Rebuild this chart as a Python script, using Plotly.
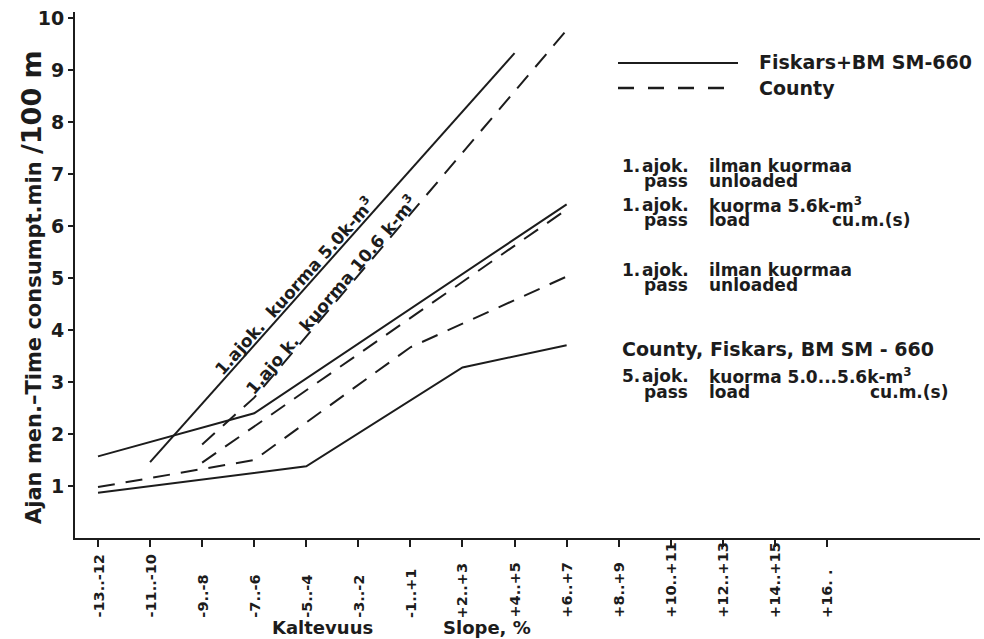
import math
import plotly.graph_objects as go

# ---- data -------------------------------------------------------------
slope_labels = ["-13..-12", "-11..-10", "-9..-8", "-7..-6", "-5..-4", "-3..-2",
                "-1..+1", "+2..+3", "+4..+5", "+6..+7", "+8..+9", "+10..+11",
                "+12..+13", "+14..+15", "+16. ."]
y_ticks = [1, 2, 3, 4, 5, 6, 7, 8, 9, 10]

# Fiskars+BM SM-660, 1st pass, load 5.0 m3
fiskars_load_x = [1, 8]
fiskars_load_y = [1.46, 9.33]
# County, 1st pass, load 10.6 m3
county_load106_x = [2, 3, 9]
county_load106_y = [1.80, 2.70, 9.77]
# Fiskars+BM SM-660, 1st pass unloaded
fiskars_empty_x = [0, 3, 9]
fiskars_empty_y = [1.57, 2.40, 6.42]
# County, 1st pass, load 5.6 m3
county_load56_x = [2, 9]
county_load56_y = [1.45, 6.32]
# County, 1st pass unloaded
county_empty_x = [0, 3, 6, 9]
county_empty_y = [0.98, 1.50, 3.67, 5.03]
# County, Fiskars, BM SM-660, 5th pass, load 5.0...5.6 m3
five_pass_x = [0, 4, 7, 9]
five_pass_y = [0.87, 1.38, 3.28, 3.71]

# ---- geometry ---------------------------------------------------------
W, H = 984, 639
L, R, T, B = 75, 4, 12, 101
PW, PH = W - L - R, H - T - B
X_STEP = 52.07                      # pixels per slope class
X0 = -23 / X_STEP
X1 = X0 + PW / X_STEP
Y1 = 10.12
Y_STEP = PH / Y1

INK = "#1c1c1c"
FONT = "DejaVu Sans"
DASH = "17px,11px"


def px(xp):
    return (xp - L) / PW


def py(yp):
    return (H - B - yp) / PH


def f(size):
    return dict(family=FONT, size=size, color=INK, weight="bold")


def text_at(xp, yp, txt, size, xanchor="left", **kw):
    return dict(x=px(xp), y=py(yp), xref="paper", yref="paper", text=txt,
                xanchor=xanchor, yanchor="middle", showarrow=False,
                font=f(size), **kw)


def line_angle(xs, ys, i0, i1):
    dx = (xs[i1] - xs[i0]) * X_STEP
    dy = (ys[i1] - ys[i0]) * Y_STEP
    return math.degrees(math.atan2(dy, dx))


def along(xs, ys, xv):
    for k in range(len(xs) - 1):
        if xs[k] <= xv <= xs[k + 1]:
            t = (xv - xs[k]) / (xs[k + 1] - xs[k])
            return ys[k] + t * (ys[k + 1] - ys[k])
    return ys[-1]


fig = go.Figure()

series = [
    (fiskars_load_x, fiskars_load_y, "solid"),
    (county_load106_x, county_load106_y, DASH),
    (fiskars_empty_x, fiskars_empty_y, "solid"),
    (county_load56_x, county_load56_y, DASH),
    (county_empty_x, county_empty_y, DASH),
    (five_pass_x, five_pass_y, "solid"),
]
for xs, ys, dash in series:
    fig.add_trace(go.Scatter(x=xs, y=ys, mode="lines",
                             line=dict(color=INK, width=2, dash=dash),
                             showlegend=False, hoverinfo="skip"))

ann = []

# slope class labels, rotated and bottom aligned
for i, lab in enumerate(slope_labels):
    ann.append(dict(x=i, xref="x", y=py(620), yref="paper", text=lab,
                    textangle=-90, xanchor="center", yanchor="bottom",
                    showarrow=False, font=f(14.5)))

# axis titles
ann.append(text_at(322, 627, "Kaltevuus", 18, xanchor="center"))
ann.append(text_at(487, 627, "Slope, %", 18, xanchor="center"))
ann.append(text_at(31, 287,
                   "Ajan men.–Time consumpt.min <span style='font-size:27px'>/100 m</span>",
                   21, xanchor="center", textangle=-90))


# labels written along the two steep lines, baseline resting on the line
def line_label(xs, ys, seg, xc, text, off, size):
    ang = line_angle(xs, ys, seg[0], seg[1])
    r = math.radians(ang)
    ann.append(dict(x=xc, y=along(xs, ys, xc), xref="x", yref="y", text=text,
                    textangle=-ang, showarrow=False, font=f(size),
                    xanchor="center", yanchor="middle",
                    xshift=-off * math.sin(r), yshift=off * math.cos(r)))


line_label(fiskars_load_x, fiskars_load_y, (0, 1), 3.9,
           "1.ajok.  kuorma 5.0k-m<sup>3</sup>", 10, 17)
line_label(county_load106_x, county_load106_y, (1, 2), 4.6,
           "1.ajo k.  kuorma 10.6 k-m<sup>3</sup>", 8, 17)

# legend
ann.append(text_at(757, 62, "Fiskars+BM SM-660", 19))
ann.append(text_at(757, 88, "County", 19))

# explanatory text on the right
notes = [
    (620, 166, "1."), (640, 166, "ajok."), (707, 166, "ilman kuormaa"),
    (642, 181, "pass"), (707, 181, "unloaded"),
    (620, 205, "1."), (640, 205, "ajok."), (707, 205, "kuorma 5.6k-m<sup>3</sup>"),
    (642, 220, "pass"), (707, 220, "load"), (830, 220, "cu.m.(s)"),
    (620, 270, "1."), (640, 270, "ajok."), (707, 270, "ilman kuormaa"),
    (642, 285, "pass"), (707, 285, "unloaded"),
    (620, 376, "5."), (640, 376, "ajok."), (707, 376, "kuorma 5.0...5.6k-m<sup>3</sup>"),
    (642, 392, "pass"), (707, 392, "load"), (868, 392, "cu.m.(s)"),
]
for xp, yp, txt in notes:
    ann.append(text_at(xp, yp, txt, 17))
ann.append(text_at(620, 349, "County, Fiskars, BM SM - 660", 19))

shapes = [
    dict(type="line", xref="paper", yref="paper", x0=px(618), x1=px(738),
         y0=py(63), y1=py(63), line=dict(color=INK, width=2)),
    dict(type="line", xref="paper", yref="paper", x0=px(618), x1=px(738),
         y0=py(88), y1=py(88), line=dict(color=INK, width=2.5, dash="16px,14px")),
]

fig.update_layout(
    width=W, height=H,
    margin=dict(l=L, r=R, t=T, b=B),
    paper_bgcolor="white", plot_bgcolor="white",
    annotations=ann, shapes=shapes,
    xaxis=dict(range=[X0, X1], tickvals=list(range(len(slope_labels))),
               showticklabels=False, ticks="outside", ticklen=7, tickwidth=2,
               tickcolor=INK, showline=True, linecolor=INK, linewidth=2,
               showgrid=False, zeroline=False, fixedrange=True),
    yaxis=dict(range=[0, Y1], tickvals=y_ticks, ticks="outside", ticklen=5,
               tickwidth=2, tickcolor=INK, tickfont=f(19), showline=True,
               linecolor=INK, linewidth=2, showgrid=False, zeroline=False,
               fixedrange=True),
)

fig.write_html("out.html")
